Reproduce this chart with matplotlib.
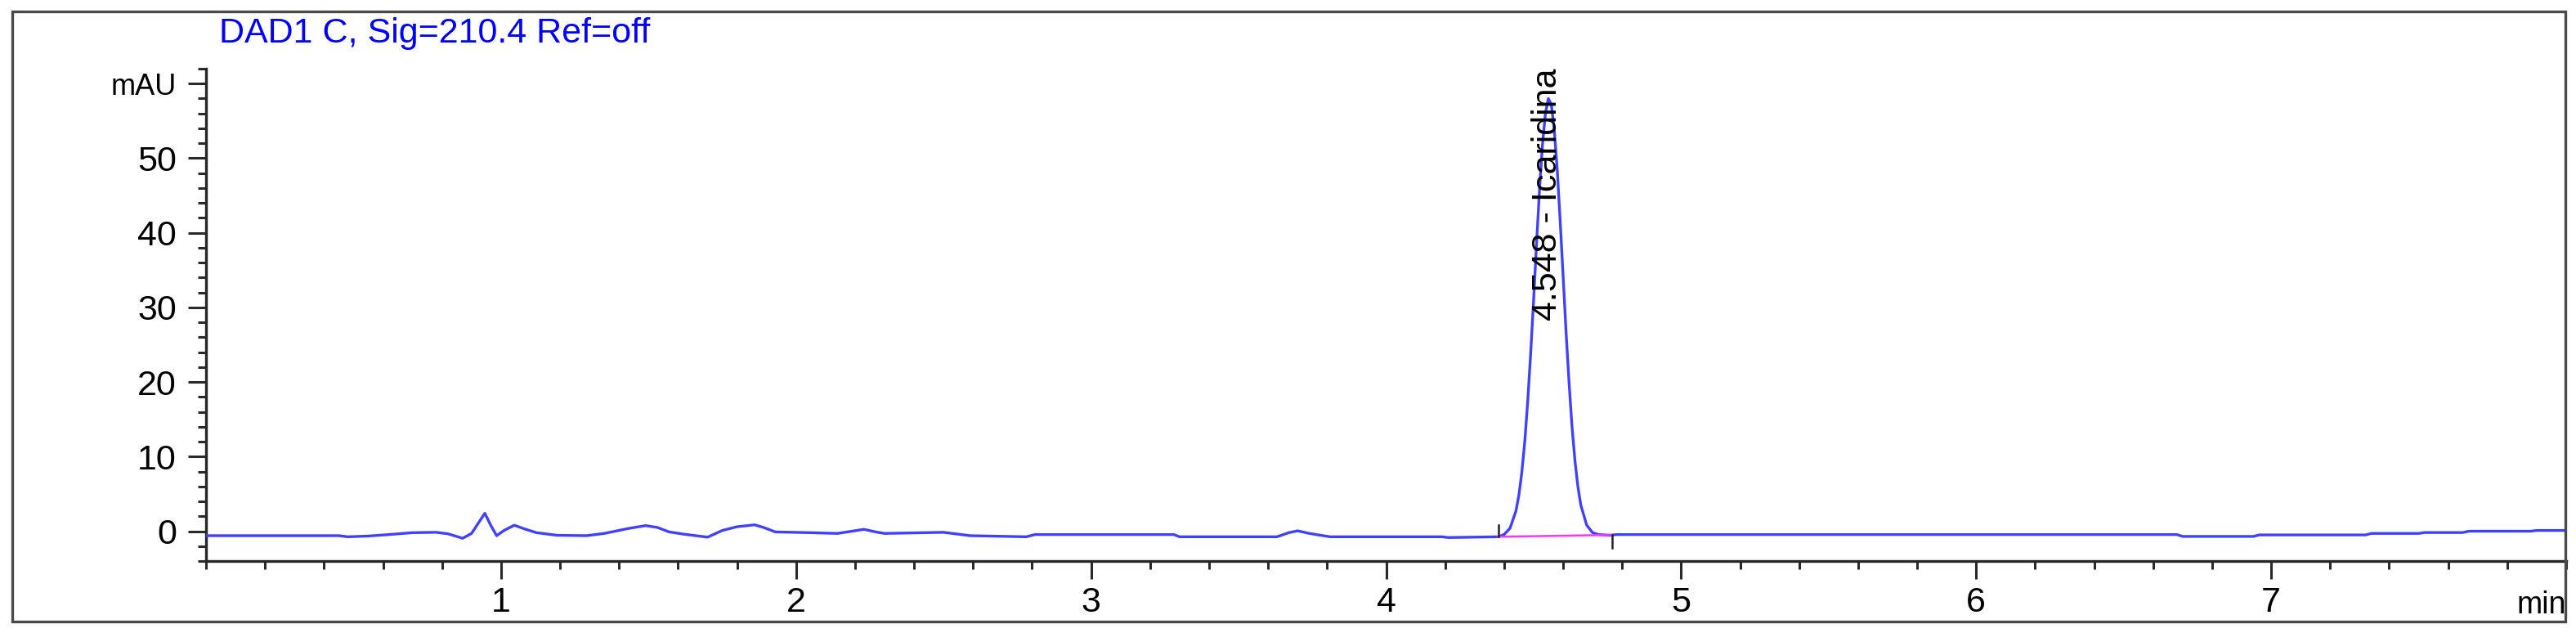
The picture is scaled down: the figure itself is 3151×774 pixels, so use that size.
"""DAD1 C chromatogram (Sig=210.4, Ref=off) with the Icaridina peak."""

import matplotlib
matplotlib.use('Agg')
import matplotlib.pyplot as plt
from matplotlib.patches import Rectangle
from matplotlib.ticker import FixedLocator, MultipleLocator
from matplotlib.transforms import Bbox, TransformedBbox

plt.rcParams['font.family'] = ['Liberation Sans', 'DejaVu Sans']

TITLE = 'DAD1 C, Sig=210.4 Ref=off'

# Retention time (min) and absorbance (mAU).
rt = [
    0.00, 0.30, 0.45, 0.48, 0.55, 0.62, 0.70, 0.78, 0.82, 0.87,
    0.90, 0.925, 0.945, 0.965, 0.985, 1.01, 1.045, 1.08, 1.12, 1.19,
    1.29, 1.35, 1.43, 1.49, 1.53, 1.57, 1.62, 1.70, 1.75, 1.80,
    1.86, 1.89, 1.93, 2.05, 2.14, 2.19, 2.23, 2.27, 2.30, 2.50,
    2.59, 2.78, 2.81, 3.28, 3.30, 3.63, 3.67, 3.70, 3.74, 3.81,
    4.19, 4.21, 4.38, 4.40, 4.42, 4.44, 4.45, 4.46, 4.47, 4.48,
    4.49, 4.50, 4.51, 4.52, 4.53, 4.54, 4.55, 4.56, 4.57, 4.58,
    4.59, 4.60, 4.61, 4.62, 4.63, 4.64, 4.65, 4.66, 4.68, 4.70,
    4.72, 4.76, 4.78, 6.68, 6.70, 6.94, 6.96, 7.32, 7.34, 7.50,
    7.52, 7.65, 7.67, 7.88, 7.90, 8.00,
]
mau = [
    -0.6, -0.6, -0.6, -0.75, -0.65, -0.45, -0.2, -0.15, -0.35, -0.95,
    -0.3, 1.2, 2.4, 0.8, -0.6, 0.1, 0.8, 0.3, -0.2, -0.55,
    -0.6, -0.3, 0.35, 0.75, 0.5, -0.1, -0.4, -0.8, 0.1, 0.6,
    0.85, 0.5, -0.1, -0.2, -0.3, 0.0, 0.25, -0.1, -0.3, -0.15,
    -0.6, -0.75, -0.45, -0.45, -0.75, -0.75, -0.2, 0.05, -0.3, -0.75,
    -0.75, -0.85, -0.75, -0.45, 0.4, 2.7, 4.8, 7.9, 12.0, 17.4,
    23.8, 31.0, 38.6, 45.8, 51.8, 56.0, 58.0, 57.2, 53.8, 48.5,
    41.6, 34.2, 26.7, 20.0, 14.1, 9.5, 6.0, 3.5, 0.8, -0.2,
    -0.45, -0.55, -0.45, -0.45, -0.7, -0.7, -0.5, -0.5, -0.3, -0.3,
    -0.18, -0.18, 0.0, 0.0, 0.1, 0.1,
]

# Integration baseline of the peak: start and end (min, mAU).
base_rt = [4.38, 4.765]
base_mau = [-0.75, -0.5]

peak_rt = 4.548
peak_name = 'Icaridina'
peak_label_mau = 28.2

y_major = [0, 10, 20, 30, 40, 50, 60]
y_labels = ['0', '10', '20', '30', '40', '50', 'mAU']
x_major = [1, 2, 3, 4, 5, 6, 7]
x_labels = ['1', '2', '3', '4', '5', '6', '7']

W, H, DPI = 3151, 774, 100
fig = plt.figure(figsize=(W / DPI, H / DPI), dpi=DPI)
ax = fig.add_axes([252 / W, 1 - 686 / H, (3139 - 252) / W, (686 - 84) / H])

ax.plot(rt, mau, color='#4040ff', lw=2.4, solid_joinstyle='round', zorder=3)
ax.plot(base_rt, base_mau, color='#ff33ff', lw=1.8, zorder=4)
# Start/end marks of the integration.
ax.plot([base_rt[0]] * 2, [base_mau[0], base_mau[0] + 1.6], color='#222', lw=1.8, zorder=4)
ax.plot([base_rt[1]] * 2, [base_mau[1], base_mau[1] - 1.7], color='#222', lw=1.8, zorder=4)

ax.text(peak_rt, peak_label_mau, f'{peak_rt:.3f} - {peak_name}', rotation=90,
        ha='center', va='bottom', fontsize=31, color='black', clip_on=False, zorder=5)

ax.set_xlim(0, 8.0)
ax.set_ylim(-4, 62)
for side in ('top', 'right'):
    ax.spines[side].set_visible(False)
for side in ('left', 'bottom'):
    ax.spines[side].set_linewidth(2.4)
    ax.spines[side].set_color('#262626')

ax.set_yticks(y_major, y_labels)
ax.set_xticks(x_major, x_labels)
ax.yaxis.set_minor_locator(FixedLocator(list(range(-4, 63, 2))))
ax.xaxis.set_minor_locator(MultipleLocator(0.2))
ax.tick_params(which='major', length=16, width=2.2, color='#2a2a2a', labelsize=31)
ax.tick_params(which='minor', length=7, width=2.2, color='#2a2a2a')
ax.tick_params(axis='y', which='major', pad=10)
ax.tick_params(axis='x', which='major', pad=6)
ax.get_yticklabels()[-1].set_fontsize(26)

fig.text(268 / W, 1 - 52 / H, TITLE, color='#0000ff', fontsize=31,
         ha='left', va='baseline')

# Outer frame of the report; the unit label is cut by its right edge.
frame = Rectangle((15 / W, 1 - 760 / H), (3138 - 15) / W, (760 - 14) / H,
                  transform=fig.transFigure, fill=False, ec='#4a4a4a', lw=2.4)
fig.add_artist(frame)
unit = fig.text(3078 / W, 1 - 750 / H, 'min', fontsize=27, ha='left', va='baseline')
unit.set_clip_box(TransformedBbox(Bbox([[0, 0], [3137 / W, 1]]), fig.transFigure))
unit.set_clip_on(True)

fig.savefig('out.png', dpi=DPI, facecolor='white')
